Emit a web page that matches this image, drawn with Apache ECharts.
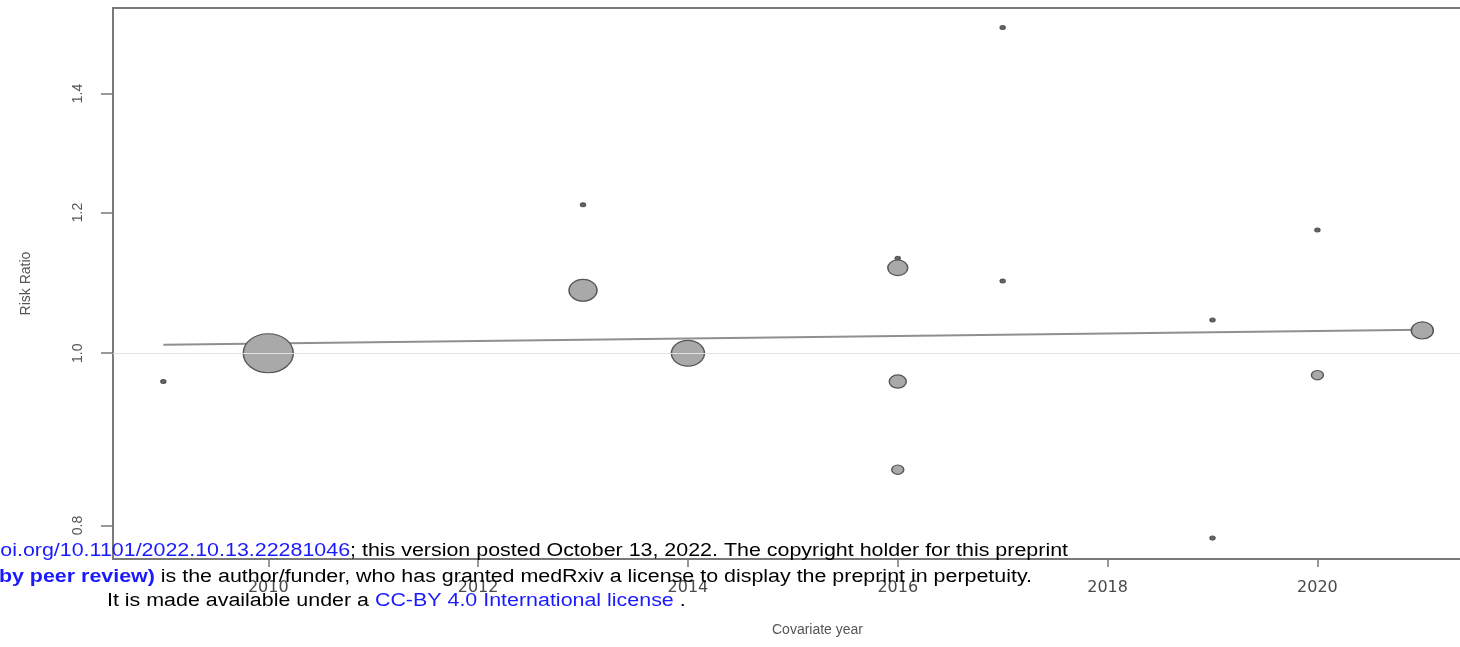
<!DOCTYPE html>
<html>
<head>
<meta charset="utf-8">
<script src="https://cdn.jsdelivr.net/npm/echarts@6/dist/echarts.min.js"></script>
<style>
html,body{margin:0;padding:0;background:#fff;}
#chart{width:1460px;height:647px;}
</style>
</head>
<body>
<div id="chart"></div>
<script>
// Study-level data
const years = [2009, 2010, 2013, 2013, 2014, 2016, 2016, 2016, 2016, 2017, 2017, 2019, 2019, 2020, 2020, 2021];
const riskRatios = [0.964, 1.000, 1.212, 1.085, 1.000, 1.131, 1.117, 0.964, 0.860, 1.525, 1.098, 1.044, 0.787, 1.173, 0.972, 1.030];
const weights = [5, 50, 5, 28, 33, 5, 20, 17, 12, 5, 5, 5, 5, 5, 12, 22];

// Meta-regression fitted line (endpoints)
const fitYears = [2009, 2021];
const fitRR = [1.011, 1.031];

// Axis ticks
const xTicks = [2010, 2012, 2014, 2016, 2018, 2020];
const yTicks = [0.8, 1.0, 1.2, 1.4];
const xRange = [2008.52, 2021.95];
const yRange = [0.766, 1.564];

const ln = Math.log;
const points = years.map((y, i) => [y, ln(riskRatios[i]), weights[i]]);
const fit = fitYears.map((y, i) => [y, ln(fitRR[i])]);

const chart = echarts.init(document.getElementById('chart'));
const axisText = '#555';
const font = 'Liberation Sans, Arial, sans-serif';

chart.setOption({
  animation: false,
  grid: {left: 113, top: 8, right: -62, bottom: 88, show: true, borderColor: '#7a7a7a', borderWidth: 2,
    backgroundColor: 'transparent', outerBoundsMode: 'none', containLabel: false},
  xAxis: {
    type: 'value', min: xRange[0], max: xRange[1],
    name: 'Covariate year', nameLocation: 'middle', nameGap: 64,
    nameTextStyle: {color: axisText, fontSize: 14, fontFamily: font},
    axisLine: {show: false, onZero: false},
    splitLine: {show: false},
    axisTick: {show: true, length: 8, customValues: xTicks, lineStyle: {color: '#777', width: 1.5}},
    axisLabel: {customValues: xTicks, margin: 21, color: '#4a4a4a', fontSize: 16, fontFamily: 'DejaVu Sans, sans-serif',
      formatter: v => String(Math.round(v))}
  },
  yAxis: {
    type: 'value', min: ln(yRange[0]), max: ln(yRange[1]),
    name: 'Risk Ratio', nameLocation: 'middle', nameGap: 80,
    nameTextStyle: {color: axisText, fontSize: 14, fontFamily: font},
    axisLine: {show: false, onZero: false},
    splitLine: {show: false},
    axisTick: {show: true, length: 12, customValues: yTicks.map(ln), lineStyle: {color: '#777', width: 1.5}},
    axisLabel: {customValues: yTicks.map(ln), rotate: 90, margin: 28, color: axisText, fontSize: 14, fontFamily: font,
      formatter: v => Math.exp(v).toFixed(1)}
  },
  series: [
    {
      type: 'line', data: fit, symbol: 'none', z: 2,
      lineStyle: {color: '#8f8f8f', width: 2},
      markLine: {silent: true, symbol: 'none', label: {show: false},
        lineStyle: {color: '#e2e2e2', width: 1, type: 'solid'},
        data: [{yAxis: 0}]}
    },
    {
      type: 'scatter', data: points, z: 3,
      symbol: 'circle',
      symbolSize: d => [d[2], d[2] * 0.78],
      itemStyle: {
        color: p => (p.data[2] <= 6 ? '#666' : '#a9a9a9'),
        borderColor: '#555', borderWidth: 1.3, opacity: 1
      }
    }
  ],
  graphic: [
    {type: 'text', x: 1068, y: 551, scaleX: 1.19, z: 100,
      style: {text: '{k|medRxiv preprint doi: }{b|https://doi.org/10.1101/2022.10.13.22281046}{k|; this version posted October 13, 2022. The copyright holder for this preprint}',
        align: 'right', verticalAlign: 'middle', font: '18px ' + font,
        rich: {k: {fill: '#000', fontSize: 18, fontFamily: font}, b: {fill: '#1a1aff', fontSize: 18, fontFamily: font}}}},
    {type: 'text', x: 1032, y: 577, scaleX: 1.19, z: 100,
      style: {text: '{bb|(which was not certified by peer review)}{k| is the author/funder, who has granted medRxiv a license to display the preprint in perpetuity.}',
        align: 'right', verticalAlign: 'middle', font: '18px ' + font,
        rich: {k: {fill: '#000', fontSize: 18, fontFamily: font}, bb: {fill: '#1a1aff', fontSize: 18, fontWeight: 'bold', fontFamily: font}}}},
    {type: 'text', x: 107, y: 601, scaleX: 1.19, z: 100,
      style: {text: '{k|It is made available under a }{b|CC-BY 4.0 International license}{k| .}',
        align: 'left', verticalAlign: 'middle', font: '18px ' + font,
        rich: {k: {fill: '#000', fontSize: 18, fontFamily: font}, b: {fill: '#1a1aff', fontSize: 18, fontFamily: font}}}}
  ]
});
</script>
</body>
</html>
